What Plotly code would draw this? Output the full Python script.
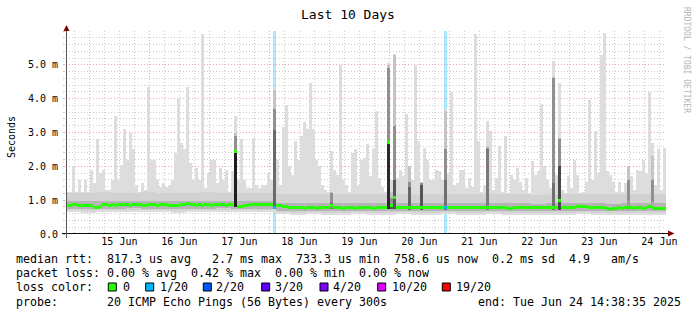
import plotly.graph_objects as go
from datetime import datetime, timedelta

# ---------------- data ----------------
start = datetime(2025, 6, 14, 14, 38, 35)
end = datetime(2025, 6, 24, 14, 38, 35)
BIN_MIN = 72          # one column of the graph = 72 minutes
BAND_MIN = 360        # band series sampled every 6 hours

# top of the smoke (max ping) per column, ms
top_ms = [
    1.25, 1.25, 2.0, 1.25, 1.6, 1.25, 1.6, 1.25, 1.9, 1.5,
    2.8, 1.8, 1.9, 1.3, 1.3, 1.6, 3.5, 1.6, 2.05, 3.1,
    2.2, 3.0, 2.5, 1.45, 1.25, 1.5, 1.3, 4.35, 2.2, 2.2,
    1.6, 1.4, 1.5, 1.4, 1.45, 1.6, 2.4, 4.0, 2.7, 2.5,
    4.35, 2.1, 1.6, 1.95, 1.6, 5.9, 1.35, 1.8, 2.2, 2.2,
    1.5, 1.95, 1.6, 1.9, 1.25, 1.85, 3.5, 1.6, 2.8, 1.6,
    1.35, 1.35, 2.85, 1.45, 1.35, 1.45, 1.45, 1.8, 1.6, 4.3,
    2.2, 1.45, 3.15, 3.8, 2.0, 1.75, 2.75, 2.2, 2.9, 3.3,
    3.1, 4.45, 3.1, 2.2, 2.0, 1.45, 1.3, 1.25, 2.45, 1.9,
    1.75, 5.0, 1.6, 1.45, 1.25, 2.4, 2.5, 1.45, 2.2, 2.25,
    2.65, 1.7, 2.5, 3.65, 1.65, 1.4, 1.25, 5.05, 1.6, 5.33,
    1.65, 1.9, 1.7, 3.55, 1.7, 1.6, 5.0, 2.75, 1.55, 2.55,
    2.2, 1.6, 1.6, 1.9, 1.85, 1.6, 3.7, 1.8, 4.2, 1.45,
    1.5, 1.9, 1.9, 1.35, 1.65, 1.4, 5.9, 2.75, 1.25, 1.45,
    3.35, 3.05, 1.3, 1.65, 2.6, 1.25, 2.9, 1.2, 1.75, 1.6,
    1.95, 1.55, 1.3, 1.65, 1.2, 2.15, 1.75, 1.85, 3.85, 2.0,
    1.6, 1.35, 5.1, 1.75, 4.45, 1.3, 1.2, 1.7, 1.35, 2.2,
    1.75, 1.2, 1.25, 1.55, 3.95, 1.6, 3.05, 1.8, 5.3, 5.95,
    1.85, 1.75, 1.55, 1.25, 1.55, 1.25, 1.5, 2.0, 1.7, 1.3,
    1.9, 1.85, 2.2, 1.8, 4.2, 2.7, 1.45, 2.5, 1.3, 2.55,
]

# median rtt per column, ms
median_ms = [
    0.85, 0.85, 0.86, 0.86, 0.85, 0.85, 0.85, 0.85, 0.84, 0.79,
    0.79, 0.82, 0.86, 0.86, 0.85, 0.86, 0.85, 0.86, 0.86, 0.86,
    0.86, 0.85, 0.86, 0.86, 0.86, 0.85, 0.85, 0.86, 0.86, 0.86,
    0.85, 0.86, 0.86, 0.86, 0.85, 0.84, 0.85, 0.85, 0.86, 0.88,
    0.90, 0.87, 0.86, 0.85, 0.86, 0.85, 0.88, 0.86, 0.85, 0.86,
    0.86, 0.86, 0.86, 0.85, 0.86, 0.86, 2.45, 0.80, 0.80, 0.84,
    0.85, 0.86, 0.86, 0.86, 0.86, 0.86, 0.86, 0.86, 0.86, 0.79,
    0.83, 0.83, 0.82, 0.80, 0.78, 0.78, 0.77, 0.78, 0.77, 0.76,
    0.77, 0.78, 0.77, 0.76, 0.77, 0.77, 0.78, 0.77, 0.84, 0.78,
    0.78, 0.77, 0.76, 0.77, 0.78, 0.77, 0.76, 0.77, 0.78, 0.77,
    0.78, 0.77, 0.76, 0.78, 0.77, 0.78, 0.77, 2.72, 0.84, 1.09,
    0.78, 0.79, 0.78, 0.77, 0.78, 0.78, 0.77, 0.77, 0.78, 0.77,
    0.77, 0.78, 0.77, 0.77, 0.78, 0.78, 0.78, 0.79, 0.78, 0.77,
    0.78, 0.78, 0.77, 0.78, 0.78, 0.77, 0.78, 0.78, 0.77, 0.78,
    0.79, 0.77, 0.78, 0.77, 0.78, 0.77, 0.78, 0.74, 0.75, 0.78,
    0.77, 0.78, 0.77, 0.78, 0.77, 0.78, 0.77, 0.78, 0.77, 0.77,
    0.78, 0.77, 0.77, 0.78, 1.00, 0.77, 0.78, 0.77, 0.78, 0.79,
    0.80, 0.80, 0.81, 0.80, 0.79, 0.78, 0.77, 0.77, 0.78, 0.77,
    0.76, 0.73, 0.75, 0.76, 0.77, 0.76, 0.77, 0.78, 0.77, 0.76,
    0.77, 0.77, 0.76, 0.77, 0.80, 0.77, 0.76, 0.76, 0.76, 0.76,
]

# columns with packet loss (1/20)
loss_bins = [69, 126]

# smoke band boundaries, sampled every 6 hours
band_bottom = [0.64, 0.63, 0.64, 0.64, 0.65, 0.64, 0.64, 0.63, 0.64, 0.64, 0.65, 0.64, 0.64, 0.64,
               0.58, 0.57, 0.58, 0.57, 0.57, 0.58, 0.57, 0.57, 0.58, 0.57, 0.57, 0.58, 0.57,
               0.57, 0.58, 0.57, 0.57, 0.56, 0.57, 0.57, 0.58, 0.57, 0.56, 0.57, 0.57, 0.57]
band_low = [0.70, 0.69, 0.70, 0.70, 0.71, 0.70, 0.70, 0.69, 0.70, 0.70, 0.71, 0.70, 0.70, 0.70,
            0.64, 0.63, 0.64, 0.63, 0.63, 0.64, 0.63, 0.63, 0.64, 0.63, 0.63, 0.64, 0.63,
            0.63, 0.64, 0.63, 0.63, 0.62, 0.63, 0.63, 0.64, 0.63, 0.62, 0.63, 0.63, 0.63]
band_core_lo = [0.75, 0.74, 0.75, 0.75, 0.76, 0.75, 0.75, 0.74, 0.75, 0.75, 0.76, 0.75, 0.75, 0.75,
                0.69, 0.68, 0.69, 0.68, 0.68, 0.69, 0.68, 0.68, 0.69, 0.68, 0.68, 0.69, 0.68,
                0.68, 0.69, 0.68, 0.68, 0.67, 0.68, 0.68, 0.69, 0.68, 0.67, 0.68, 0.68, 0.68]
band_core_hi = [0.98, 0.97, 0.99, 0.98, 0.98, 0.99, 0.98, 0.98, 0.99, 0.98, 0.98, 0.97, 0.98, 0.98,
                0.92, 0.91, 0.92, 0.91, 0.91, 0.92, 0.91, 0.92, 0.92, 0.91, 0.91, 0.92, 0.91,
                0.91, 0.92, 0.91, 0.91, 0.90, 0.91, 0.91, 0.92, 0.91, 0.90, 0.91, 0.91, 0.91]
band_high = [1.22, 1.20, 1.23, 1.22, 1.21, 1.23, 1.22, 1.21, 1.22, 1.23, 1.22, 1.20, 1.22, 1.22,
             1.18, 1.17, 1.19, 1.18, 1.17, 1.18, 1.18, 1.19, 1.18, 1.17, 1.18, 1.19, 1.18,
             1.17, 1.18, 1.18, 1.17, 1.16, 1.18, 1.17, 1.19, 1.18, 1.17, 1.18, 1.18, 1.17]

# columns where the smoke is dense (dark columns)
col_bins = [56, 69, 88, 107, 108, 109, 114, 118, 126, 140, 162, 164, 187, 195]
col_base = [0.80, 0.74, 0.74, 0.74, 0.74, 0.74, 0.70, 0.70, 0.70, 0.70, 0.70, 0.70, 0.70, 0.70]
col_upper = [3.0, 4.25, 1.25, 5.0, 1.25, 5.3, 2.0, 1.55, 3.65, 2.6, 4.65, 2.85, 2.0, 2.3]
col_core = [2.9, 3.7, 1.2, 4.9, 1.05, 3.2, 1.55, 1.5, 2.5, 2.55, 4.6, 2.8, 1.6, 1.6]
col_dense = [2.45, 3.06, 0.95, 2.72, 0.9, 1.6, 1.4, 1.45, 1.6, 2.5, 1.5, 2.0, 1.0, 0.95]
col_shade = ["#1e1e1e", "#6a6a6a", "#808080", "#2a2a2a", "#555555", "#555555", "#666666",
             "#555555", "#707070", "#7a7a7a", "#707070", "#4a4a4a", "#9a9a9a", "#aaaaaa"]

# legend / statistics text
title_text = "Last 10 Days"
y_title = "Seconds"
stat_line1 = "median rtt:  817.3 us avg   2.7 ms max  733.3 us min  758.6 us now  0.2 ms sd  4.9   am/s"
stat_line2 = "packet loss: 0.00 % avg  0.42 % max  0.00 % min  0.00 % now"
loss_title = "loss color:"
loss_labels = ["0", "1/20", "2/20", "3/20", "4/20", "10/20", "19/20"]
loss_colors = ["#26ff00", "#00b8ff", "#0059ff", "#5e00ff", "#7e00ff", "#dd00ff", "#ff0000"]
probe_line = "probe:       20 ICMP Echo Pings (56 Bytes) every 300s             end: Tue Jun 24 14:38:35 2025"
side_text = "RRDTOOL / TOBI OETIKER"

# ---------------- layout constants ----------------
W, H = 697, 315
ML, MR, MT, MB = 66, 31, 31, 81
PW, PH = W - ML - MR, H - MT - MB
MONO = "DejaVu Sans Mono"


def xp(px):
    return (px - ML) / PW


def yp(py):
    return (H - MB - py) / PH


n = len(top_ms)
bin_w = BIN_MIN * 60 * 1000
band_w = BAND_MIN * 60 * 1000
xc = [start + timedelta(minutes=BIN_MIN * (i + 0.5)) for i in range(n)]
xb = [start + timedelta(minutes=BAND_MIN * (j + 0.5)) for j in range(len(band_high))]

fig = go.Figure()


def bars(x, base, top, color, width):
    fig.add_trace(go.Bar(
        x=x, base=base, y=[t - b for t, b in zip(top, base)], width=width,
        marker=dict(color=color, line=dict(width=0)), hoverinfo="skip", showlegend=False))


# loss background columns
bars([xc[i] for i in loss_bins], [0.0] * len(loss_bins), [6.0] * len(loss_bins),
     "rgba(0,184,255,0.33)", bin_w)
# smoke spikes
bars(xc, median_ms, top_ms, "#dddddd", bin_w)
# smoke bands
bars(xb, band_bottom, band_high, "#dddddd", band_w)
bars(xb, band_low, band_high, "#d2d2d2", band_w)
bars(xb, band_core_lo, band_core_hi, "#b5b5b5", band_w)
# dense columns
cx = [xc[i] for i in col_bins]
bars(cx, col_base, col_upper, "#c4c4c4", bin_w)
bars(cx, col_base, col_core, "#909090", bin_w)
bars(cx, col_base, col_dense, col_shade, bin_w)
# median line, coloured by loss
MED_T = 0.09
med_col = [loss_colors[1] if i in loss_bins else loss_colors[0] for i in range(n)]
bars(xc, [m - MED_T / 2 for m in median_ms], [m + MED_T / 2 for m in median_ms], med_col, bin_w)

GRID = "rgba(143,143,143,0.45)"
MGRID = "rgba(222,80,80,0.5)"
DOT = "1px,2px"

fig.update_layout(
    width=W, height=H, autosize=False,
    margin=dict(l=ML, r=MR, t=MT, b=MB, pad=0),
    paper_bgcolor="white", plot_bgcolor="white",
    barmode="overlay", bargap=0, showlegend=False,
    xaxis=dict(
        type="date", range=[start, end], tickmode="linear", tick0="2025-06-15",
        dtick=86400000, tickformat="%d %b", ticklabelshift=30, ticklabelstandoff=0,
        showgrid=True, gridcolor=MGRID, griddash=DOT, gridwidth=1,
        ticks="", showline=False, zeroline=False,
        tickfont=dict(family=MONO, size=10, color="black"),
        minor=dict(tick0="2025-06-15", dtick=21600000, showgrid=True, gridcolor=GRID,
                   griddash=DOT, ticks=""),
        fixedrange=True,
    ),
    yaxis=dict(
        range=[0, 6.0], tickmode="linear", tick0=0, dtick=1, tickformat=".1f",
        ticksuffix=" m", labelalias={"0.0 m": "0.0", "6.0 m": ""},
        showgrid=True, gridcolor=MGRID, griddash=DOT, gridwidth=1,
        ticks="outside", ticklen=2, tickcolor=MGRID, showline=False, zeroline=False,
        ticklabelstandoff=3,
        tickfont=dict(family=MONO, size=10, color="black"),
        minor=dict(dtick=0.2, showgrid=True, gridcolor=GRID, griddash=DOT,
                   ticks="outside", ticklen=2, tickcolor=GRID),
        fixedrange=True,
    ),
)

shapes = [
    # axes
    dict(type="line", xref="paper", yref="paper", x0=xp(62), x1=xp(669), y0=yp(233.5), y1=yp(233.5),
         line=dict(color="#111111", width=1), layer="above"),
    dict(type="line", xref="paper", yref="paper", x0=xp(66.5), x1=xp(66.5), y0=yp(238), y1=yp(30),
         line=dict(color="#555555", width=1), layer="above"),
    # arrows
    dict(type="path", xref="paper", yref="paper",
         path=f"M {xp(668)},{yp(230.5)} L {xp(674.5)},{yp(233.5)} L {xp(668)},{yp(236.5)} Z",
         fillcolor="#7f0000", line=dict(width=0), layer="above"),
    dict(type="path", xref="paper", yref="paper",
         path=f"M {xp(63.5)},{yp(31)} L {xp(66.5)},{yp(25)} L {xp(69.5)},{yp(31)} Z",
         fillcolor="#7f0000", line=dict(width=0), layer="above"),
]

box_x = [108.3, 145.7, 203.3, 261.7, 320.0, 377.7, 442.3]
lab_x = [123.0, 159.7, 216.4, 274.7, 332.7, 392.0, 456.4]
for bx, c in zip(box_x, loss_colors):
    shapes.append(dict(type="rect", xref="paper", yref="paper", x0=xp(bx), x1=xp(bx + 8),
                       y0=yp(291), y1=yp(283), fillcolor=c, line=dict(color="black", width=1),
                       layer="above"))
fig.update_layout(shapes=shapes)

NB = "\u00a0"


def ann(text, px, py, size, anchor="left", angle=0, color="black", family=MONO):
    fig.add_annotation(text=text.replace(" ", NB), x=xp(px), y=yp(py), xref="paper", yref="paper",
                       xanchor=anchor, yanchor="middle", showarrow=False, textangle=angle,
                       borderpad=0, borderwidth=0,
                       font=dict(family=family, size=size, color=color))


ann(title_text, 348, 14, 13, anchor="center")
ann(y_title, 11, 137, 10, anchor="center", angle=-90)
ann(side_text, 687, 60, 8, anchor="center", angle=90, color="#b5b5b5")
TS = 11.63
ann(stat_line1, 15.5, 259.3, TS)
ann(stat_line2, 15.5, 273.3, TS)
ann(loss_title, 15.5, 287.3, TS)
for lx, lab in zip(lab_x, loss_labels):
    ann(lab, lx, 287.3, TS)
ann(probe_line, 15.5, 301.7, TS)

fig.write_html("out.html", config={"displayModeBar": False, "staticPlot": True})
